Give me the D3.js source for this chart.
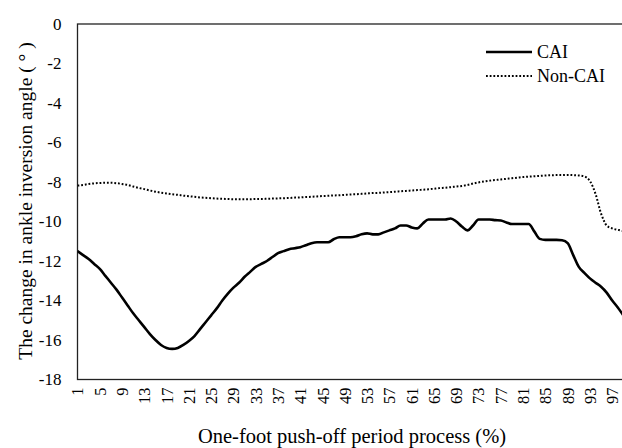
<!DOCTYPE html>
<html>
<head>
<meta charset="utf-8">
<script src="https://cdn.jsdelivr.net/npm/d3@7"></script>
<style>
  body { margin: 0; background: #fff; }
  svg { display: block; }
  svg text { font-family: "Liberation Serif", "Times New Roman", Times, "DejaVu Serif", serif; }
</style>
</head>
<body>
<div id="chart"></div>
<script>
// categories: percent of push-off period
const progress = d3.range(1, 101);
const xTickValues = d3.range(1, 98, 4);
const yTickValues = [0, -2, -4, -6, -8, -10, -12, -14, -16, -18];

const caiValues = [
  -11.5, -11.7, -11.9, -12.15, -12.4, -12.75, -13.1, -13.45, -13.85, -14.25,
  -14.65, -15.0, -15.35, -15.7, -16.0, -16.25, -16.4, -16.45, -16.4, -16.25,
  -16.05, -15.8, -15.45, -15.1, -14.75, -14.4, -14.0, -13.65, -13.35, -13.1,
  -12.8, -12.55, -12.3, -12.15, -12.0, -11.8, -11.6, -11.5, -11.4, -11.35,
  -11.3, -11.2, -11.1, -11.05, -11.05, -11.05, -10.9, -10.8, -10.8, -10.8,
  -10.75, -10.65, -10.6, -10.65, -10.65, -10.55, -10.45, -10.35, -10.2, -10.2,
  -10.3, -10.35, -10.1, -9.9, -9.9, -9.9, -9.9, -9.85, -10.0, -10.25,
  -10.45, -10.2, -9.9, -9.9, -9.9, -9.93, -9.95, -10.05, -10.13, -10.13,
  -10.13, -10.13, -10.5, -10.88, -10.93, -10.93, -10.93, -10.95, -11.1, -11.7,
  -12.3, -12.6, -12.88, -13.1, -13.3, -13.6, -14.0, -14.35, -14.75, -15.1
];

const nonCaiValues = [
  -8.18, -8.15, -8.1, -8.07, -8.05, -8.04, -8.04, -8.06, -8.1, -8.15,
  -8.23, -8.3, -8.36, -8.43, -8.49, -8.54, -8.58, -8.62, -8.65, -8.69,
  -8.72, -8.75, -8.78, -8.8, -8.82, -8.84, -8.85, -8.86, -8.87, -8.87,
  -8.87, -8.87, -8.86, -8.86, -8.85, -8.84, -8.83, -8.82, -8.81, -8.79,
  -8.78, -8.76, -8.75, -8.73, -8.71, -8.7, -8.68, -8.67, -8.65, -8.63,
  -8.62, -8.6, -8.58, -8.56, -8.55, -8.53, -8.51, -8.49, -8.47, -8.45,
  -8.43, -8.41, -8.39, -8.37, -8.34, -8.31, -8.29, -8.26, -8.23, -8.2,
  -8.15, -8.08, -8.02, -7.97, -7.93, -7.9, -7.87, -7.84, -7.81, -7.78,
  -7.75, -7.73, -7.71, -7.69, -7.67, -7.66, -7.65, -7.65, -7.64, -7.65,
  -7.67, -7.72, -7.95, -8.6, -9.6, -10.2, -10.35, -10.42, -10.48, -10.5
];

const width = 622;
const height = 448;
const plotLeft = 77.5, plotTop = 24, plotBottom = 379.5;
const step = 5.57;
const plotRight = plotLeft + (progress.length - 1) * step; // runs past the frame, as in the picture

const x = d3.scaleLinear().domain([1, 100]).range([plotLeft, plotRight]);
const y = d3.scaleLinear().domain([-18, 0]).range([plotBottom, plotTop]);

const svg = d3.select("#chart").append("svg")
  .attr("width", width)
  .attr("height", height);

// plot area border
svg.append("rect")
  .attr("x", plotLeft).attr("y", plotTop)
  .attr("width", plotRight - plotLeft).attr("height", plotBottom - plotTop)
  .attr("fill", "none").attr("stroke", "#222").attr("stroke-width", 1.3);

// y axis
const yAxis = svg.append("g")
  .attr("transform", `translate(${plotLeft},0)`)
  .call(d3.axisLeft(y).tickValues(yTickValues).tickSize(0).tickPadding(16)
    .tickFormat(d => String(d)));
yAxis.attr("font-family", null).attr("font-size", 17);
yAxis.select(".domain").remove();
yAxis.selectAll("text").attr("fill", "#000");

// x axis
const xAxis = svg.append("g")
  .attr("transform", `translate(0,${plotBottom})`)
  .call(d3.axisBottom(x).tickValues(xTickValues).tickSize(0)
    .tickFormat(d => String(d)));
xAxis.attr("font-family", null).attr("font-size", 16.5);
xAxis.select(".domain").remove();
xAxis.selectAll("text")
  .attr("fill", "#000")
  .attr("text-anchor", "end")
  .attr("dy", "0.33em")
  .attr("transform", "translate(0,8) rotate(-90)")
  .attr("x", 0).attr("y", 0);

// lines
const line = d3.line()
  .x((d, i) => x(progress[i]))
  .y(d => y(d))
  .curve(d3.curveMonotoneX);

svg.append("clipPath").attr("id", "plotclip")
  .append("rect").attr("x", plotLeft).attr("y", plotTop - 5)
  .attr("width", width - plotLeft).attr("height", plotBottom - plotTop + 10);

svg.append("path")
  .datum(nonCaiValues)
  .attr("clip-path", "url(#plotclip)")
  .attr("d", line)
  .attr("fill", "none").attr("stroke", "#000")
  .attr("stroke-width", 2).attr("stroke-dasharray", "1.8,1.9");

svg.append("path")
  .datum(caiValues)
  .attr("clip-path", "url(#plotclip)")
  .attr("d", line)
  .attr("fill", "none").attr("stroke", "#000")
  .attr("stroke-width", 2.6).attr("stroke-linejoin", "round");

// legend
const legend = svg.append("g").attr("transform", "translate(486,52)")
  .attr("font-size", 18);
const legendItems = [
  { name: "CAI", dash: null, w: 2.6 },
  { name: "Non-CAI", dash: "1.8,1.9", w: 2 }
];
legendItems.forEach((d, i) => {
  const g = legend.append("g").attr("transform", `translate(0,${i * 24})`);
  g.append("line").attr("x1", 0).attr("x2", 46).attr("y1", 0).attr("y2", 0)
    .attr("stroke", "#000").attr("stroke-width", d.w)
    .attr("stroke-dasharray", d.dash);
  g.append("text").attr("x", 51).attr("y", 0).attr("dy", "0.35em")
    .text(d.name);
});

// axis titles
svg.append("text")
  .attr("x", 352).attr("y", 443)
  .attr("text-anchor", "middle").attr("font-size", 20.5)
  .text("One-foot push-off period process (%)");

svg.append("text")
  .attr("transform", "translate(32,201) rotate(-90)")
  .attr("text-anchor", "middle").attr("font-size", 19.5)
  .text("The change in ankle inversion angle ( ° )");
</script>
</body>
</html>
